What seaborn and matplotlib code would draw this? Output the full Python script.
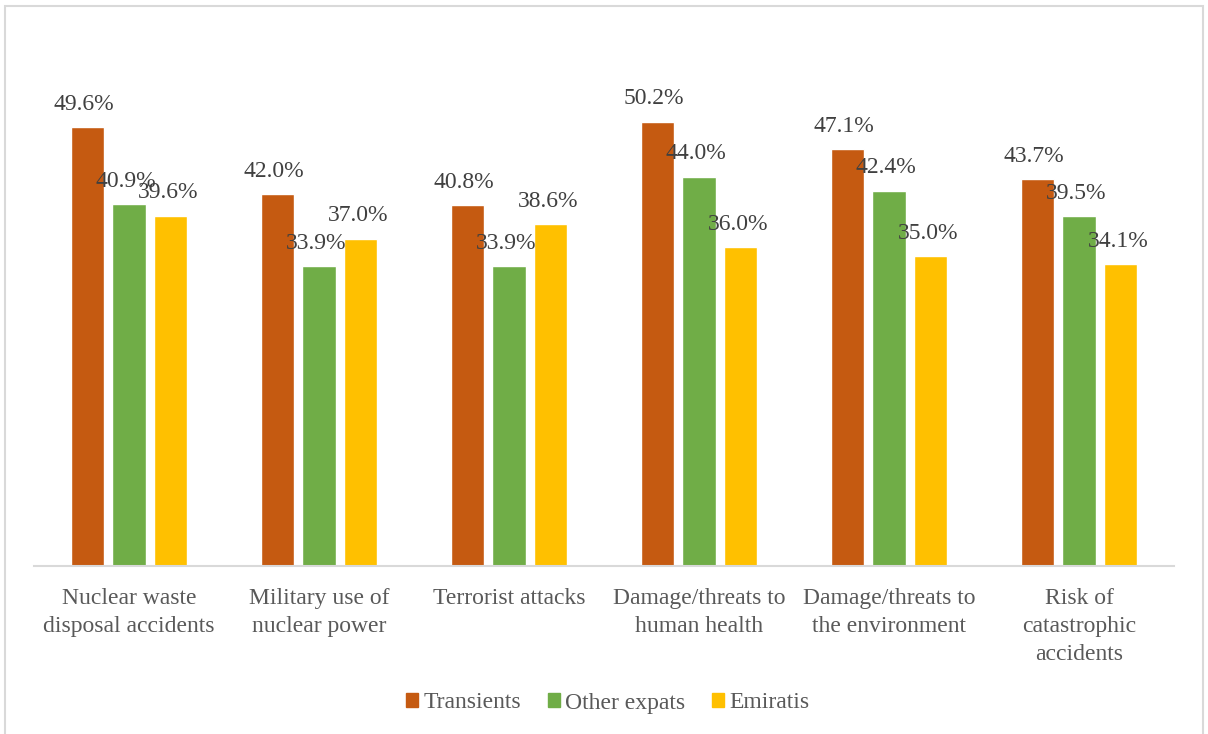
import matplotlib
matplotlib.use("Agg")
import matplotlib.pyplot as plt
import matplotlib.patches as mpatches
import seaborn as sns
import pandas as pd

categories = [
    "Nuclear waste\ndisposal accidents",
    "Military use of\nnuclear power",
    "Terrorist attacks",
    "Damage/threats to\nhuman health",
    "Damage/threats to\nthe environment",
    "Risk of\ncatastrophic\naccidents",
]
groups = ["Transients", "Other expats", "Emiratis"]
transients = [49.6, 42.0, 40.8, 50.2, 47.1, 43.7]
other_expats = [40.9, 33.9, 33.9, 44.0, 42.4, 39.5]
emiratis = [39.6, 37.0, 38.6, 36.0, 35.0, 34.1]
colors = ["#C55A11", "#70AD47", "#FFC000"]

rows = []
for g, vals in zip(groups, [transients, other_expats, emiratis]):
    for c, v in zip(categories, vals):
        rows.append({"category": c, "group": g, "value": v})
df = pd.DataFrame(rows)

sns.set_style("white")
plt.rcParams["font.family"] = ["Liberation Serif", "DejaVu Serif"]

W, H, DPI = 1208, 734, 100
fig = plt.figure(figsize=(W / DPI, H / DPI), dpi=DPI)
ax = fig.add_axes([34 / W, 1 - 566 / H, 1140 / W, 531 / H])

sns.barplot(data=df, x="category", y="value", hue="group", hue_order=groups,
            palette=colors, width=0.663, gap=0.214, saturation=1,
            errorbar=None, legend=False, ax=ax)

ax.set_ylim(0, 60)
ax.set_xlim(-0.5, len(categories) - 0.5)
ax.set_xlabel("")
ax.set_ylabel("")
ax.set_yticks([])
for side in ["top", "left", "right"]:
    ax.spines[side].set_visible(False)
ax.spines["bottom"].set_color("#D9D9D9")
ax.spines["bottom"].set_linewidth(1.5)
ax.tick_params(axis="x", length=0, pad=16, labelsize=17, labelcolor="#595959")
for lbl in ax.get_xticklabels():
    lbl.set_linespacing(1.43)

# value labels above each bar
for container in ax.containers:
    for bar in container:
        h = bar.get_height()
        ax.annotate(f"{h:.1f}%", (bar.get_x() + bar.get_width() / 2, h),
                    xytext=(-2, 16.5), textcoords="offset points",
                    ha="center", va="center", fontsize=17, color="#404040")

handles = [mpatches.Patch(color=c, label=g) for c, g in zip(colors, groups)]
fig.legend(handles=handles, loc="center",
           bbox_to_anchor=(0.5 + 4 / W, 1 - 703 / H),
           ncol=3, frameon=False, fontsize=17, handlelength=0.5,
           handleheight=0.5, handletextpad=0.22, columnspacing=1.15,
           labelcolor="#595959")

# outer chart border
fig.patches.append(mpatches.Rectangle((5 / W, -0.01), 1198 / W, 1 - 6 / H + 0.01,
                                      transform=fig.transFigure, fill=False,
                                      edgecolor="#D9D9D9", linewidth=1.5))

fig.savefig("out.png", dpi=DPI)
